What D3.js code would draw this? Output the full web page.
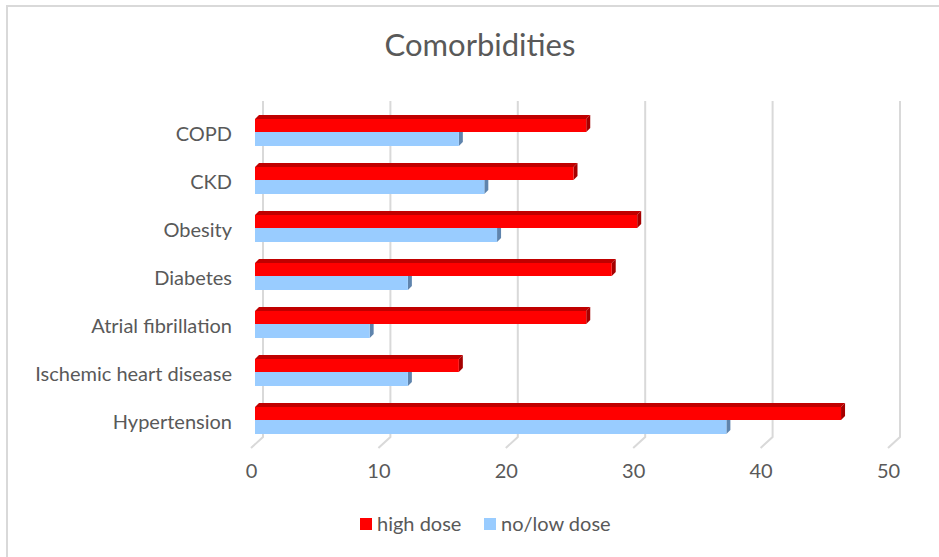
<html>
<head>
<style>
  body { margin: 0; background: #fff; }
  text { font-family: Lato, "Open Sans", sans-serif; fill: #595959; }
</style>
</head>
<body>
<svg id="chart" width="939" height="557"></svg>
<script src="https://d3js.org/d3.v7.min.js"></script>
<script>
  // data
  let categories = ["COPD", "CKD", "Obesity", "Diabetes", "Atrial fibrillation", "Ischemic heart disease", "Hypertension"]
  let highDose = [26, 25, 30, 28, 26, 16, 46]
  let lowDose = [16, 18, 19, 12, 9, 12, 37]
  let tickValues = [0, 10, 20, 30, 40, 50]
  let seriesNames = ["high dose", "no/low dose"]

  let svg = d3.select("#chart")

  // chart frame (only top/left visible in the reference)
  svg.append("rect")
    .attr("x", 7).attr("y", 6)
    .attr("width", 960).attr("height", 600)
    .attr("fill", "none")
    .attr("stroke", "#d9d9d9")
    .attr("stroke-width", 2)

  svg.append("text")
    .attr("x", 480).attr("y", 56)
    .attr("text-anchor", "middle")
    .style("font-size", "31px")
    .text("Comorbidities")

  // three scales for the 3D look: back wall, bars, front floor edge
  let backX = d3.scaleLinear().domain([0, 50]).range([263, 900])
  let barX = d3.scaleLinear().domain([0, 50]).range([255, 892])
  let frontX = d3.scaleLinear().domain([0, 50]).range([251, 888])

  let y = d3.scaleBand().domain(categories).range([108, 444]).padding(0)
  let mid = d => y(d) + y.bandwidth() / 2

  let depth = 4
  let barH = 13
  let gridTop = 101, gridBottom = 437

  // gridlines on back wall + slant to the floor edge
  let grid = svg.append("g")
  grid.selectAll("path")
    .data(tickValues)
    .enter()
    .append("path")
    .attr("d", v => `M${backX(v)},${gridTop} L${backX(v)},${gridBottom} L${frontX(v)},${gridBottom + 11}`)
    .attr("fill", "none")
    .attr("stroke", "#d9d9d9")
    .attr("stroke-width", 2)

  let rows = categories.map((c, i) => ({ cat: c, high: highDose[i], low: lowDose[i] }))

  function drawBar(g, x1, yTop, h, front, top, side) {
    let x0 = barX(0)
    g.append("polygon")
      .attr("points", [[x0, yTop], [x1, yTop], [x1 + depth, yTop - depth], [x0 + depth, yTop - depth]].join(" "))
      .attr("fill", top)
    g.append("polygon")
      .attr("points", [[x1, yTop], [x1 + depth, yTop - depth], [x1 + depth, yTop + h - depth], [x1, yTop + h]].join(" "))
      .attr("fill", side)
    g.append("rect")
      .attr("x", x0).attr("y", yTop)
      .attr("width", x1 - x0).attr("height", h)
      .attr("fill", front)
  }

  let bars = svg.append("g")
  rows.forEach(d => {
    let g = bars.append("g")
    // blue first so the red top face sits over it
    drawBar(g, barX(d.low), mid(d.cat), barH + 1, "#99ccff", "#7fa6cc", "#5f84ad")
    drawBar(g, barX(d.high), mid(d.cat) - barH, barH, "#ff0000", "#c00000", "#a50000")
  })

  // category labels
  let yAxis = d3.axisLeft(y).tickSize(0).tickPadding(0)
  let ya = svg.append("g")
    .attr("transform", "translate(232,3)")
    .call(yAxis)
  ya.select(".domain").remove()
  ya.selectAll("text")
    .style("font-size", "20px")
    .style("font-family", "Lato, 'Open Sans', sans-serif")
    .attr("fill", "#595959")

  // value labels along the front edge
  let xAxis = d3.axisBottom(frontX).tickValues(tickValues).tickSize(0).tickPadding(0)
  let xa = svg.append("g")
    .attr("transform", "translate(0,464)")
    .call(xAxis)
  xa.select(".domain").remove()
  xa.selectAll("text")
    .style("font-size", "20px")
    .style("font-family", "Lato, 'Open Sans', sans-serif")
    .attr("fill", "#595959")

  // legend
  let legend = svg.append("g")
  let legendX = [360, 484]
  let legendColors = ["#ff0000", "#99ccff"]
  seriesNames.forEach((n, i) => {
    legend.append("rect")
      .attr("x", legendX[i]).attr("y", 518)
      .attr("width", 12).attr("height", 12)
      .attr("fill", legendColors[i])
    legend.append("text")
      .attr("x", legendX[i] + 17).attr("y", 531)
      .style("font-size", "20px")
      .text(n)
  })
</script>
</body>
</html>
